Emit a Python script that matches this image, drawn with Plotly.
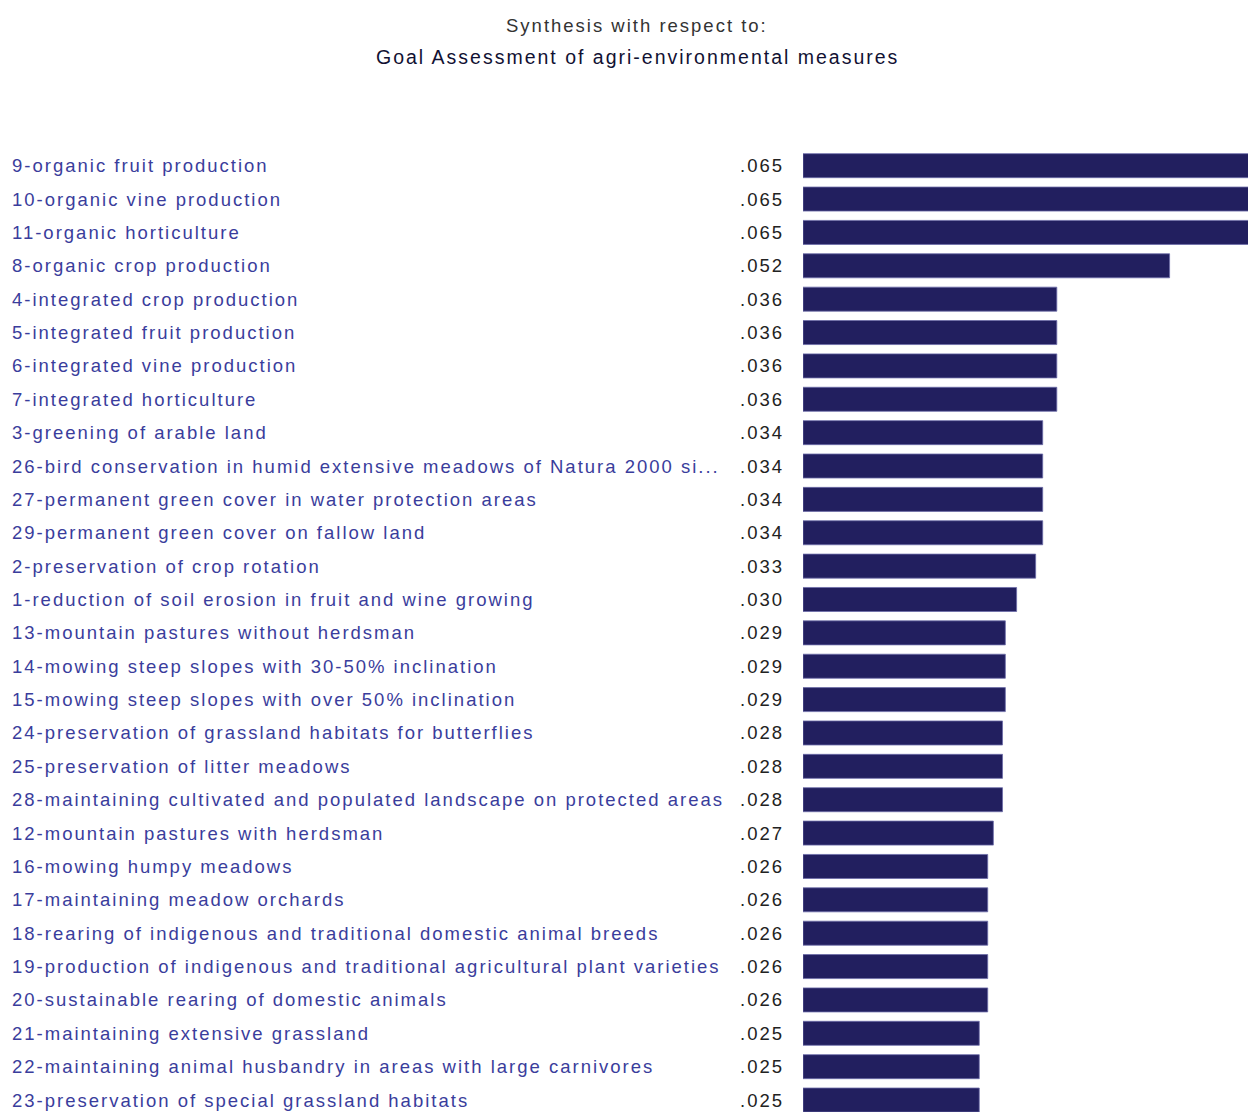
import plotly.graph_objects as go

title_line1 = "Synthesis with respect to:"
title_line2 = "Goal Assessment of agri-environmental measures"

categories = [
    "9-organic fruit production",
    "10-organic vine production",
    "11-organic horticulture",
    "8-organic crop production",
    "4-integrated crop production",
    "5-integrated fruit production",
    "6-integrated vine production",
    "7-integrated horticulture",
    "3-greening of arable land",
    "26-bird conservation in humid extensive meadows of Natura 2000 si...",
    "27-permanent green cover in water protection areas",
    "29-permanent green cover on fallow land",
    "2-preservation of crop rotation",
    "1-reduction of soil erosion in fruit and wine growing",
    "13-mountain pastures without herdsman",
    "14-mowing steep slopes with 30-50% inclination",
    "15-mowing steep slopes with over 50% inclination",
    "24-preservation of grassland habitats for butterflies",
    "25-preservation of litter meadows",
    "28-maintaining cultivated and populated landscape on protected areas",
    "12-mountain pastures with herdsman",
    "16-mowing humpy meadows",
    "17-maintaining meadow orchards",
    "18-rearing of indigenous and traditional domestic animal breeds",
    "19-production of indigenous and traditional agricultural plant varieties",
    "20-sustainable rearing of domestic animals",
    "21-maintaining extensive grassland",
    "22-maintaining animal husbandry in areas with large carnivores",
    "23-preservation of special grassland habitats",
]

values = [
    0.065, 0.065, 0.065, 0.052,
    0.036, 0.036, 0.036, 0.036,
    0.034, 0.034, 0.034, 0.034,
    0.033, 0.0303,
    0.0287, 0.0287, 0.0287,
    0.0283, 0.0283, 0.0283,
    0.0270,
    0.0262, 0.0262, 0.0262, 0.0262, 0.0262,
    0.0250, 0.0250, 0.0250,
]

value_labels = ["." + f"{v:.3f}".split(".")[1] for v in values]

BAR = "#221f5f"
LABEL = "#3a3d9c"
FONT = "Liberation Sans"


def spaced(t, px=2):
    return f'<span style="letter-spacing:{px}px">{t}</span>'


W, H = 1248, 1112
L, T = 803, 149
PITCH = 33.37  # px per row in the reference
rows_visible = (H - T) / PITCH

fig = go.Figure(
    go.Bar(
        x=values,
        y=categories,
        orientation="h",
        marker=dict(color=BAR, line=dict(color="#6c6ca8", width=0.8)),
        hoverinfo="skip",
    )
)

annotations = []
for cat, lab in zip(categories, value_labels):
    annotations.append(dict(
        x=0, xref="paper", y=cat, yref="y",
        text=spaced(cat), showarrow=False, xanchor="left", yanchor="middle",
        xshift=-(L - 10), font=dict(family=FONT, size=18.5, color=LABEL),
    ))
    annotations.append(dict(
        x=0, xref="paper", y=cat, yref="y",
        text=spaced(lab), showarrow=False, xanchor="right", yanchor="middle",
        xshift=-17, font=dict(family=FONT, size=18.5, color="#222222"),
    ))

annotations.append(dict(
    x=0, xref="paper", y=1, yref="paper", text=spaced(title_line1), showarrow=False,
    xanchor="center", yanchor="middle", xshift=637 - L, yshift=T - 25,
    font=dict(family=FONT, size=18.5, color="#333333"),
))
annotations.append(dict(
    x=0, xref="paper", y=1, yref="paper", text=spaced(title_line2), showarrow=False,
    xanchor="center", yanchor="middle", xshift=637 - L, yshift=T - 57,
    font=dict(family=FONT, size=19.5, color="#111133"),
))

fig.update_layout(
    width=W, height=H,
    margin=dict(l=L, r=0, t=T, b=0, pad=0),
    paper_bgcolor="white", plot_bgcolor="white",
    bargap=0.28,
    showlegend=False,
    annotations=annotations,
    xaxis=dict(range=[0, (W - L) / 7050], visible=False, fixedrange=True),
    yaxis=dict(range=[rows_visible - 0.5, -0.5], showticklabels=False, showgrid=False,
               zeroline=False, showline=False, ticks="", fixedrange=True),
)

fig.write_html(
    "out.html",
    config={"displayModeBar": False},
    post_script=(
        "document.body.style.margin='0';"
        "document.body.style.overflow='hidden';"
        "document.documentElement.style.overflow='hidden';"
    ),
)
